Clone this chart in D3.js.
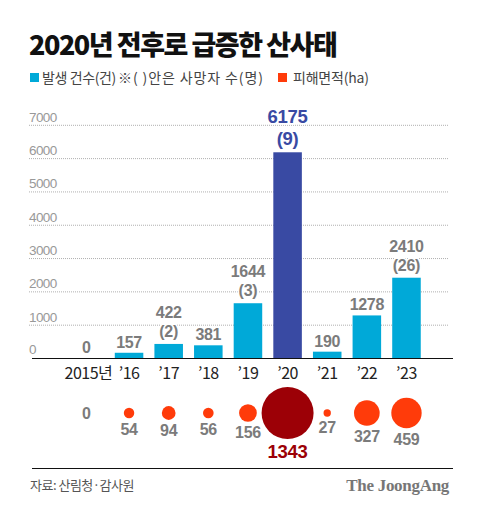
<!DOCTYPE html>
<html><head><meta charset="utf-8">
<script src="https://cdn.jsdelivr.net/npm/d3@7"></script>
<style>
html,body{margin:0;padding:0;background:#fff;}
svg{display:block;font-family:"Noto Sans CJK KR","Noto Sans",sans-serif;}
</style></head>
<body>
<script>
const years = ["2015년", "’16", "’17", "’18", "’19", "’20", "’21", "’22", "’23"];
const cases = [0, 157, 422, 381, 1644, 6175, 190, 1278, 2410];
const deaths = [null, null, 2, null, 3, 9, null, null, 26];
const area = [0, 54, 94, 56, 156, 1343, 27, 327, 459];
const yTicks = [0, 1000, 2000, 3000, 4000, 5000, 6000, 7000];
const highlight = "’20";

const W = 480, H = 522;
const svg = d3.select("body").append("svg").attr("width", W).attr("height", H);
const NUM = "'Liberation Sans',Arial,sans-serif";

// Title
svg.append("text").attr("x", 29).attr("y", 55)
  .attr("font-size", 27).attr("font-weight", 900).attr("fill", "#111")
  .attr("letter-spacing", -1.5)
  .text("2020년 전후로 급증한 산사태");

// Legend
const lg = svg.append("g").attr("font-size", 14).attr("fill", "#444");
lg.append("rect").attr("x", 30).attr("y", 73).attr("width", 9).attr("height", 9).attr("fill", "#00a9d8");
lg.append("text").attr("x", 42).attr("y", 83).attr("fill", "#444").attr("letter-spacing", -0.4).text("발생 건수(건)");
lg.append("text").attr("x", 118).attr("y", 83).attr("fill", "#444")
  .attr("textLength", 145).attr("lengthAdjust", "spacing")
  .style("white-space", "pre").text("※( )안은 사망자 수(명)");
lg.append("rect").attr("x", 278).attr("y", 73).attr("width", 9).attr("height", 9).attr("fill", "#ff3b0a");
lg.append("text").attr("x", 293).attr("y", 83).attr("fill", "#444").attr("letter-spacing", -0.2).text("피해면적(ha)");

// Scales
const x = d3.scaleBand().domain(years).range([69.6, 426.3]).paddingInner(0.28).paddingOuter(0.14);
const y = d3.scaleLinear().domain([0, 7000]).range([358, 124.8]);
const r = d3.scaleSqrt().domain([0, 1343]).range([0, 26]);

// Gridlines + y labels
const grid = svg.append("g");
grid.selectAll("line").data(yTicks.filter(d => d > 0)).join("line")
  .attr("x1", 29).attr("x2", 449)
  .attr("y1", d => y(d) + 0.5).attr("y2", d => y(d) + 0.5)
  .attr("stroke", "#b0b0b0").attr("stroke-width", 1).attr("stroke-dasharray", "1,1");
grid.selectAll("text").data(yTicks).join("text")
  .attr("x", 29).attr("y", d => y(d) - (d === 0 ? 4 : 3))
  .attr("font-size", 13.5).attr("fill", "#999").attr("letter-spacing", -0.6)
  .style("font-family", "'Liberation Sans Narrow','Liberation Sans',sans-serif")
  .text(d => d);

// Bars
svg.append("g").selectAll("rect").data(years).join("rect")
  .attr("x", d => x(d)).attr("width", x.bandwidth())
  .attr("y", (d, i) => y(cases[i])).attr("height", (d, i) => y(0) - y(cases[i]))
  .attr("fill", d => d === highlight ? "#394aa3" : "#00a9d8");

// Baseline
svg.append("line").attr("x1", 32).attr("x2", 453).attr("y1", 358.5).attr("y2", 358.5)
  .attr("stroke", "#111").attr("stroke-width", 1.2);

// Bar labels
const bl = svg.append("g").attr("text-anchor", "middle").attr("font-weight", 700)
  .style("font-family", NUM);
years.forEach((yr, i) => {
  const hi = yr === highlight;
  const cx = x(yr) + x.bandwidth() / 2 - (i === 0 ? 3 : 0);
  const fs = hi ? 18.5 : 16;
  const col = hi ? "#394aa3" : "#7b7b7b";
  const top = y(cases[i]);
  const base = top - 5;
  const lines = [];
  if (deaths[i] != null) lines.push("(" + deaths[i] + ")");
  lines.push(String(cases[i]));
  lines.forEach((t, k) => {
    bl.append("text").attr("x", cx).attr("y", base - k * (hi ? 22 : 19) - (deaths[i] != null ? 2 : 0))
      .attr("font-size", fs).attr("fill", col)
      .attr("stroke", "#fff").attr("stroke-width", 3).attr("paint-order", "stroke")
      .attr("letter-spacing", -0.3)
      .text(t);
  });
});

// X axis labels
svg.append("g").selectAll("text").data(years).join("text")
  .attr("x", d => x(d) + x.bandwidth() / 2 - (d === years[0] ? 1 : 0))
  .attr("y", 379).attr("text-anchor", "middle")
  .attr("font-size", 16).attr("fill", "#222").attr("letter-spacing", -0.5)
  .text(d => d);

// Circles
const cy = 413;
const cg = svg.append("g");
years.forEach((yr, i) => {
  const hi = yr === highlight;
  const cx = x(yr) + x.bandwidth() / 2;
  if (area[i] > 0) {
    cg.append("circle").attr("cx", cx).attr("cy", cy).attr("r", r(area[i]))
      .attr("fill", hi ? "#9c0006" : "#ff3b0a");
    cg.append("text").attr("x", cx).attr("y", cy + r(area[i]) + (hi ? 18.5 : 16.5))
      .attr("text-anchor", "middle").attr("font-weight", 700)
      .style("font-family", NUM)
      .attr("font-size", hi ? 18.5 : 16).attr("fill", hi ? "#9c0006" : "#7b7b7b")
      .attr("letter-spacing", -0.3)
      .text(area[i]);
  } else {
    cg.append("text").attr("x", cx - 3).attr("y", cy + 6)
      .attr("text-anchor", "middle").attr("font-weight", 700)
      .style("font-family", NUM)
      .attr("font-size", 16).attr("fill", "#7b7b7b")
      .text(area[i]);
  }
});

// Bottom divider
svg.append("line").attr("x1", 32).attr("x2", 453).attr("y1", 468.5).attr("y2", 468.5)
  .attr("stroke", "#111").attr("stroke-width", 1);

// Footer
svg.append("text").attr("x", 30).attr("y", 490).attr("font-size", 13).attr("fill", "#555")
  .attr("letter-spacing", -0.5)
  .text("자료: 산림청·감사원");
svg.append("text").attr("x", 449).attr("y", 491).attr("text-anchor", "end")
  .style("font-family", "'Liberation Serif','DejaVu Serif',serif").attr("font-weight", 700)
  .attr("font-size", 17).attr("fill", "#777").attr("letter-spacing", -0.3)
  .text("The JoongAng");
</script>
</body></html>
